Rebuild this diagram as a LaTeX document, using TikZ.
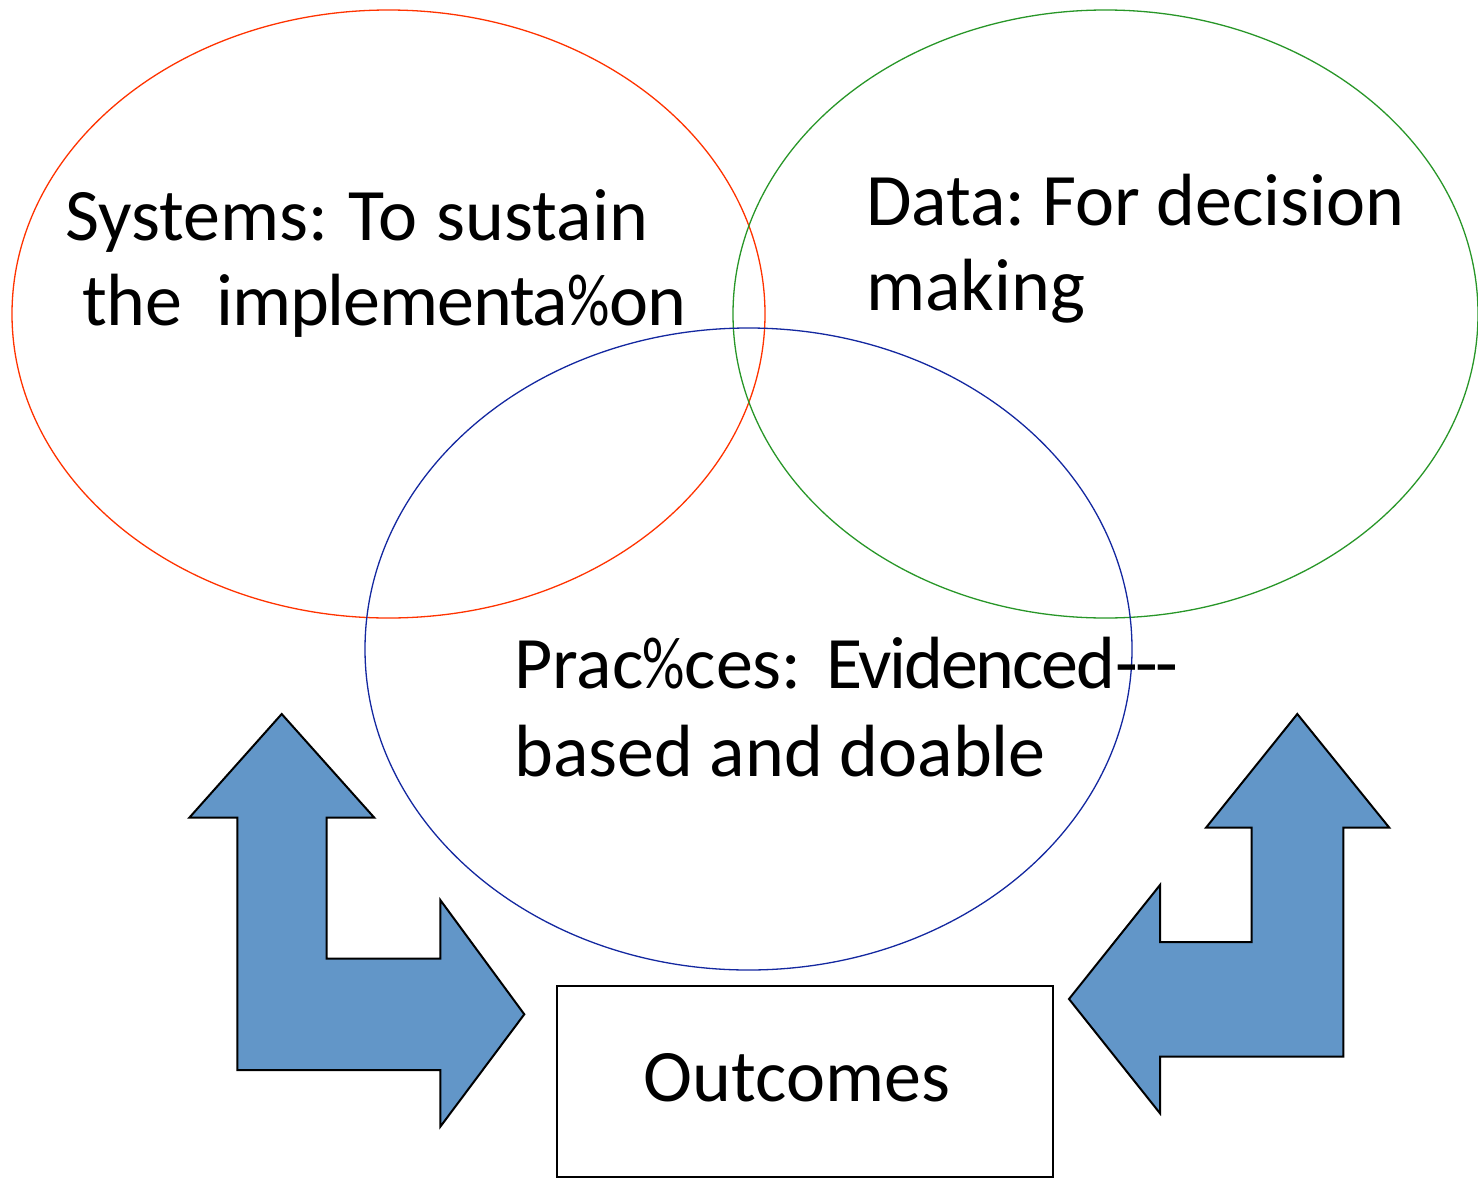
\documentclass[tikz,border=0pt]{standalone}
\usepackage{fontspec}
\usepackage{graphicx}
\setmainfont{Carlito}
\frenchspacing
\newcommand\narrowpct{\kern-0.5pt\scalebox{0.8}[1]{\%}\kern-0.5pt}
\definecolor{vred}{RGB}{255,51,0}
\definecolor{vgreen}{RGB}{40,150,40}
\definecolor{vblue}{RGB}{20,40,160}
\definecolor{arrfill}{RGB}{98,150,200}
\tikzset{
  vring/.style={line width=1.3pt},
  lbl/.style={inner sep=0pt, anchor=base west, font=\fontsize{74}{88}\selectfont},
  bentarrow/.style={fill=arrfill, draw=black, line width=2pt, line join=miter},
  outbox/.style={draw=black, line width=1.5pt, minimum width=496pt, minimum height=191pt, inner sep=0pt}
}
\begin{document}
\begin{tikzpicture}[x=1pt,y=-1pt]
\useasboundingbox (0,0) rectangle (1478,1178);
% ellipses
\draw[vring, draw=vred] (388.5,314) ellipse [x radius=376.5, y radius=304];
\draw[vring, draw=vgreen] (1105.5,314) ellipse [x radius=372.5, y radius=304];
\draw[vring, draw=vblue] (748.5,649) ellipse [x radius=383.5, y radius=321];
% labels
\node[lbl] (sys1) at (65,240) {Systems:\hspace{4pt} To\hspace{3pt} sustain};
\node[lbl] (sys2) at (82,325) {the\ \ {\addfontfeature{LetterSpace=-1.5}implementa\narrowpct on}};
\node[lbl] (dat1) at (866,225) {Data: For decision};
\node[lbl] (dat2) at (866,310) {making};
\node[lbl] (pra1) at (514,688) {Prac\narrowpct ces:\ \hspace{8pt}{\addfontfeature{LetterSpace=-3}Evidenced}-\kern-2.5pt-\kern-2.5pt-};
\node[lbl] (pra2) at (514,776) {based and doable};
% outcomes box
\node[outbox] (out) at (805,1081.5) {};
\node[lbl, anchor=base] (outtxt) at (797,1101) {Outcomes};
% left bent arrow
\draw[bentarrow] (281.7,714) -- (374.3,817.7) -- (326.7,817.7) -- (326.7,958.7)
  -- (440.3,958.7) -- (440.3,900) -- (524.3,1014.3) -- (440.3,1126.7)
  -- (440.3,1070) -- (237.3,1070) -- (237.3,817.7) -- (189.3,817.7) -- cycle;
% right bent arrow
\draw[bentarrow] (1297.3,714) -- (1389.3,827.7) -- (1343.3,827.7) -- (1343.3,1056.7)
  -- (1160,1056.7) -- (1160,1113.3) -- (1069,999) -- (1160,885) -- (1160,942)
  -- (1251.7,942) -- (1251.7,827.7) -- (1206,827.7) -- cycle;
\end{tikzpicture}
\end{document}
